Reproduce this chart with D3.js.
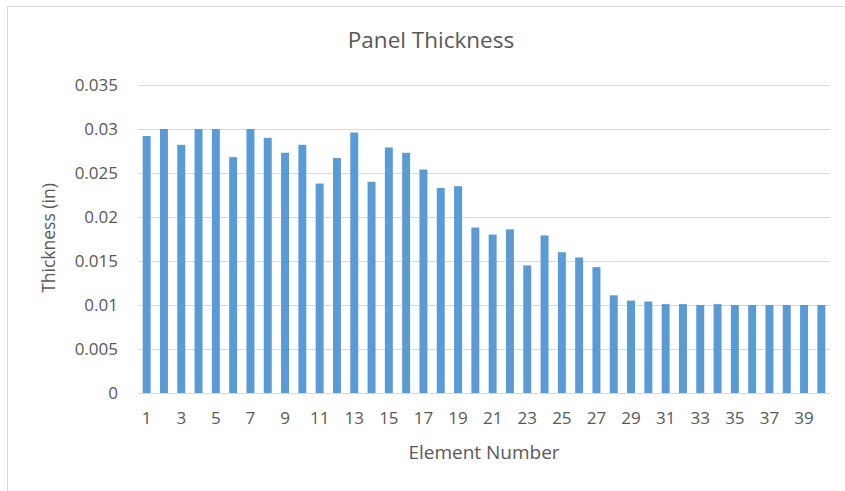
<!DOCTYPE html>
<html>
<head>
<meta charset="utf-8">
<script src="https://cdn.jsdelivr.net/npm/d3@7"></script>
<style>
  html, body { margin: 0; padding: 0; background: #fff; }
  svg { display: block; }
  text { font-family: "Open Sans", "Noto Sans", sans-serif; fill: #595959; }
</style>
</head>
<body>
<svg id="chart" width="845" height="491"></svg>
<script>
// Element numbers 1..40
const elements = d3.range(1, 41);

// Panel thickness per element (in)
const thickness = [
  0.0292, 0.0300, 0.0282, 0.0300, 0.0300, 0.0268, 0.0300, 0.0290, 0.0273, 0.0282,
  0.0238, 0.0267, 0.0296, 0.0240, 0.0279, 0.0273, 0.0254, 0.0233, 0.0235, 0.0188,
  0.0180, 0.0186, 0.0145, 0.0179, 0.0160, 0.0154, 0.0143, 0.0111, 0.0105, 0.0104,
  0.0101, 0.0101, 0.0100, 0.0101, 0.0100, 0.0100, 0.0100, 0.0100, 0.0100, 0.0100
];

// Y-axis ticks
const yTicks = [0, 0.005, 0.01, 0.015, 0.02, 0.025, 0.03, 0.035];
const yTickLabels = ["0", "0.005", "0.01", "0.015", "0.02", "0.025", "0.03", "0.035"];

// X-axis labels shown on every other element
const xTickValues = elements.filter(d => d % 2 === 1);

const titleText = "Panel Thickness";
const xTitle = "Element Number";
const yTitle = "Thickness (in)";

const svg = d3.select("#chart");

// Chart frame (runs off the right and bottom edges)
svg.append("rect")
  .attr("x", 7.5).attr("y", 6.5)
  .attr("width", 900).attr("height", 600)
  .attr("fill", "#fff")
  .attr("stroke", "#d9d9d9")
  .attr("stroke-width", 1);

const x = d3.scaleBand()
  .domain(elements)
  .range([138, 830])
  .paddingInner(0.54)
  .paddingOuter(0.27);

const y = d3.scaleLinear()
  .domain([0, 0.035])
  .range([393, 85]);

// Gridlines
svg.append("g")
  .selectAll("line")
  .data(yTicks)
  .join("line")
  .attr("x1", 138).attr("x2", 830)
  .attr("y1", d => Math.round(y(d)) + 0.5)
  .attr("y2", d => Math.round(y(d)) + 0.5)
  .attr("stroke", "#d9d9d9")
  .attr("stroke-width", 1.2);

// Bars
svg.append("g")
  .selectAll("rect")
  .data(elements)
  .join("rect")
  .attr("x", d => x(d))
  .attr("width", x.bandwidth())
  .attr("y", (d, i) => y(thickness[i]))
  .attr("height", (d, i) => y(0) - y(thickness[i]))
  .attr("fill", "#5b9bd5");

// Y axis labels
const yAxis = d3.axisLeft(y)
  .tickValues(yTicks)
  .tickFormat((d, i) => yTickLabels[i])
  .tickSize(0)
  .tickPadding(20);
const gy = svg.append("g").attr("transform", "translate(138,0)").call(yAxis);
gy.select(".domain").remove();
gy.selectAll("text")
  .attr("font-size", 17)
  .attr("font-family", null)
  .style("fill", "#595959");

// X axis labels
const xAxis = d3.axisBottom(x)
  .tickValues(xTickValues)
  .tickSize(0)
  .tickPadding(19);
const gx = svg.append("g").attr("transform", "translate(0,393)").call(xAxis);
gx.select(".domain").remove();
gx.selectAll("text")
  .attr("font-size", 17)
  .attr("font-family", null)
  .style("fill", "#595959");

// Title
svg.append("text")
  .attr("x", 431).attr("y", 42)
  .attr("text-anchor", "middle")
  .attr("dominant-baseline", "middle")
  .attr("font-size", 22.5)
  .text(titleText);

// X axis title
svg.append("text")
  .attr("x", 484).attr("y", 454)
  .attr("text-anchor", "middle")
  .attr("dominant-baseline", "middle")
  .attr("font-size", 19)
  .text(xTitle);

// Y axis title
svg.append("text")
  .attr("transform", "translate(50,238) rotate(-90)")
  .attr("text-anchor", "middle")
  .attr("dominant-baseline", "middle")
  .attr("font-size", 17.5)
  .text(yTitle);
</script>
</body>
</html>
